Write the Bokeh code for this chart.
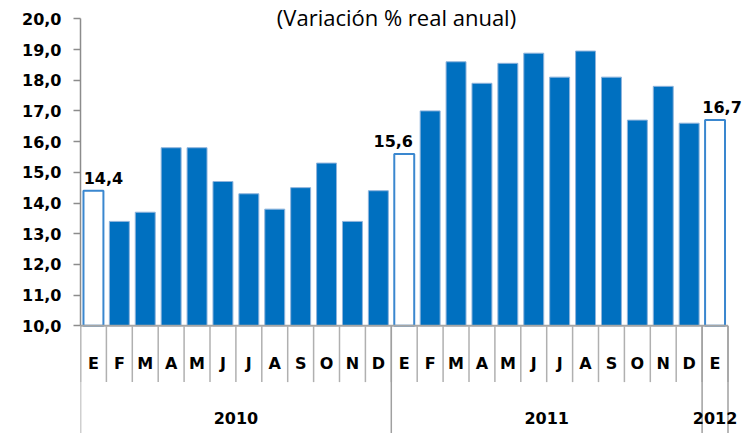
from bokeh.plotting import figure
from bokeh.models import ColumnDataSource, FixedTicker, CustomJSTickFormatter, Range1d
from bokeh.core.properties import value
from bokeh.embed import file_html
from bokeh.resources import INLINE

# ---- data ----
months = ["E", "F", "M", "A", "M", "J", "J", "A", "S", "O", "N", "D",
          "E", "F", "M", "A", "M", "J", "J", "A", "S", "O", "N", "D",
          "E"]
values_2010 = [14.4, 13.4, 13.7, 15.8, 15.8, 14.7, 14.3, 13.8, 14.5, 15.3, 13.4, 14.4]
values_2011 = [15.6, 17.0, 18.6, 17.9, 18.55, 18.88, 18.1, 18.95, 18.1, 16.7, 17.8, 16.6]
values_2012 = [16.7]
years = ["2010", "2011", "2012"]
year_counts = [12, 12, 1]
y_ticks = [10, 11, 12, 13, 14, 15, 16, 17, 18, 19, 20]
title_text = "(Variación % real anual)"

values = values_2010 + values_2011 + values_2012
xs = list(range(len(values)))

# ---- layout constants ----
W, H = 744, 433
LEFT, TOP = 80, 0
PX_UNIT_Y = 30.7      # px per 1.0 on value axis
PX_CAT = 25.9         # px per category
Y_TOP = 20 + 18.3 / PX_UNIT_Y
Y_BOT = Y_TOP - (H - TOP) / PX_UNIT_Y
X_START = -0.5
X_END = X_START + (W - LEFT) / PX_CAT
FONT = "DejaVu Sans"

p = figure(width=W, height=H, output_backend="svg", toolbar_location=None,
           x_axis_location=None, y_axis_location="left",
           x_range=Range1d(X_START, X_END), y_range=Range1d(Y_BOT, Y_TOP),
           min_border_left=LEFT, min_border_right=0, min_border_top=TOP,
           min_border_bottom=0)
p.outline_line_color = None
p.xgrid.visible = False
p.ygrid.visible = False
p.background_fill_color = "white"

# y axis
ax = p.yaxis[0]
ax.bounds = (10, 20)
ax.ticker = FixedTicker(ticks=y_ticks)
ax.formatter = CustomJSTickFormatter(code="return tick.toFixed(1).replace('.', ',');")
ax.axis_line_color = "#8c8c8c"
ax.axis_line_width = 1.5
ax.major_tick_line_color = "#8c8c8c"
ax.major_tick_line_width = 1.5
ax.major_tick_out = 7
ax.major_tick_in = 0
ax.minor_tick_line_color = None
ax.major_label_standoff = 12
ax.major_label_text_font = FONT
ax.major_label_text_font_style = "bold"
ax.major_label_text_font_size = "16px"
ax.major_label_text_color = "black"

# bars
hollow = [m == "E" for m in months]
src = ColumnDataSource(dict(
    x=xs, top=values,
    fill=["white" if h else "#0070C0" for h in hollow],
    line=["#3a87cf" if h else "#8fb4dc" for h in hollow],
    lw=[2 if h else 1 for h in hollow],
))
p.vbar(x="x", top="top", bottom=10, width=0.77, source=src,
       fill_color="fill", line_color="line", line_width="lw")

# category axis lines
n = len(values)
p.segment(x0=[X_START], y0=[10], x1=[n - 0.5], y1=[10], line_color="#a6a6a6", line_width=2)
sep_x = [k - 0.5 for k in range(n + 1)]
p.segment(x0=sep_x, y0=[10] * len(sep_x), x1=sep_x, y1=[10 - 56.3 / PX_UNIT_Y] * len(sep_x),
          line_color="#b0b0b0", line_width=1.5)
ybounds = [-0.5]
acc = 0
for c in year_counts:
    acc += c
    ybounds.append(acc - 0.5)
p.segment(x0=ybounds, y0=[10] * len(ybounds), x1=ybounds, y1=[Y_BOT] * len(ybounds),
          line_color="#a0a0a0", line_width=1.5)

# month labels
p.text(x=xs, y=[10 - 37.3 / PX_UNIT_Y] * n, text=months, text_align="center",
       text_baseline="middle", text_font=value(FONT), text_font_style="bold",
       text_font_size="16px", text_color="black")

# year labels
ycent = []
start = 0
for c in year_counts:
    ycent.append(start + (c - 1) / 2)
    start += c
p.text(x=ycent, y=[10 - 92.6 / PX_UNIT_Y] * len(years), text=years, text_align="center",
       text_baseline="middle", text_font=value(FONT), text_font_style="bold",
       text_font_size="16px", text_color="black")

# data labels on hollow bars
lab_idx = [i for i, h in enumerate(hollow) if h]
lab_x = [xs[i] for i in lab_idx]
lab_y = [values[i] for i in lab_idx]
lab_t = [f"{values[i]:.1f}".replace(".", ",") for i in lab_idx]
p.text(x=lab_x, y=lab_y, text=lab_t, x_offset=[10, -11, 7], y_offset=-7,
       text_align="center", text_baseline="bottom", text_font=value(FONT),
       text_font_style="bold", text_font_size="16px", text_color="black")

# title
p.text(x=[11.7], y=[Y_TOP], text=[title_text], text_align="center",
       text_baseline="top", y_offset=1, text_font=value("Open Sans"),
       text_font_size="22px", text_color="black")

open("out.html", "w").write(file_html(p, INLINE))
